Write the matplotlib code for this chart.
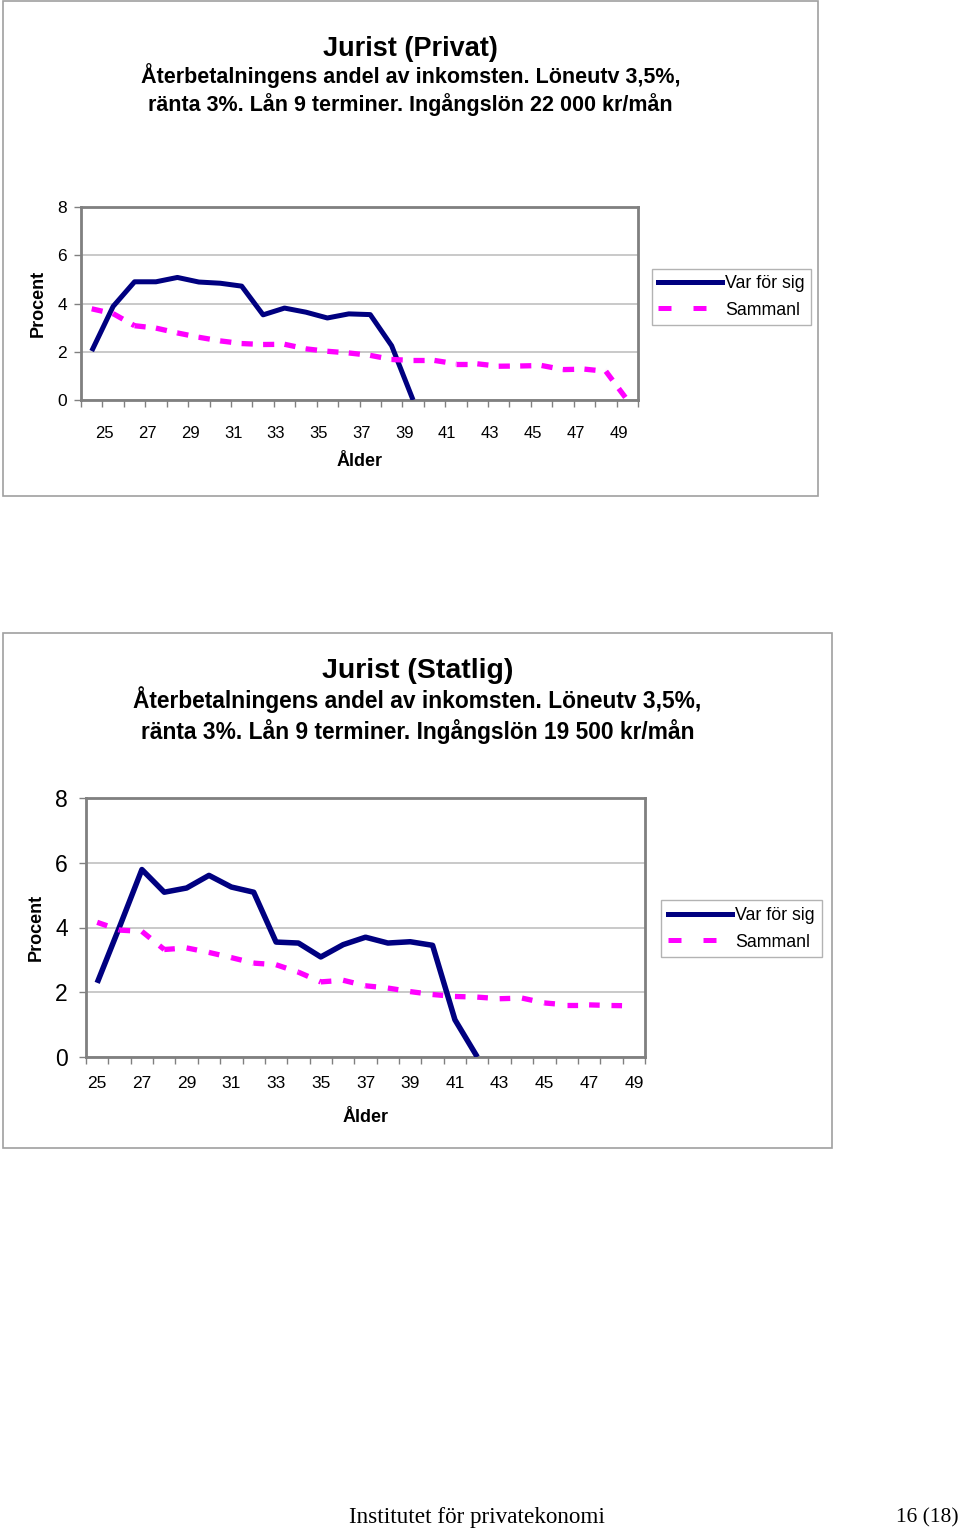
import numpy as np
import matplotlib
matplotlib.use("Agg")
import matplotlib.pyplot as plt
from matplotlib.lines import Line2D
from matplotlib.patches import Rectangle

plt.rcParams['font.family'] = ['Liberation Sans', 'DejaVu Sans']

# ---------------- data ----------------
ages_privat = list(range(25, 51))
var_privat = [2.03, 3.88, 4.90, 4.90, 5.08, 4.89, 4.84, 4.72, 3.53, 3.81,
              3.64, 3.40, 3.57, 3.54, 2.25, 0.0] + [np.nan] * 10
sam_privat = [3.78, 3.58, 3.08, 2.98, 2.78, 2.60, 2.45, 2.34, 2.30, 2.31,
              2.12, 2.02, 1.95, 1.85, 1.68, 1.64, 1.64, 1.50, 1.50, 1.40,
              1.41, 1.43, 1.26, 1.28, 1.19, 0.0]

ages_statlig = list(range(25, 50))
var_statlig = [2.29, 4.02, 5.79, 5.09, 5.22, 5.61, 5.25, 5.09, 3.55, 3.52,
               3.09, 3.47, 3.70, 3.52, 3.56, 3.45, 1.15, 0.0] + [np.nan] * 7
sam_statlig = [4.16, 3.92, 3.88, 3.32, 3.37, 3.23, 3.07, 2.90, 2.85, 2.62,
               2.32, 2.37, 2.20, 2.13, 2.02, 1.93, 1.87, 1.85, 1.80, 1.82,
               1.67, 1.61, 1.61, 1.59, 1.58]

series_labels = ["Var för sig", "Sammanl"]
tick_labels_privat = [str(a) for a in range(25, 50, 2)]
tick_labels_statlig = [str(a) for a in range(25, 50, 2)]
yticks = [0, 2, 4, 6, 8]

titles = ["Jurist (Privat)", "Jurist (Statlig)"]
subtitles = [
    "Återbetalningens andel av inkomsten. Löneutv 3,5%,\nränta 3%. Lån 9 terminer. Ingångslön 22 000 kr/mån",
    "Återbetalningens andel av inkomsten. Löneutv 3,5%,\nränta 3%. Lån 9 terminer. Ingångslön 19 500 kr/mån",
]

# ---------------- style ----------------
W, H = 960, 1528
DPI = 100
NAVY = "#000080"
MAG = "#FF00FF"
GRID = "#c0c0c0"
SPINE = "#808080"
FRAME = "#a0a0a0"
PX = 72.0 / DPI  # points per pixel

fig = plt.figure(figsize=(W / DPI, H / DPI), dpi=DPI)


def fx(x):
    return x / W


def fy(y):
    return 1 - y / H


def frame(x0, y0, x1, y1):
    fig.patches.append(Rectangle((fx(x0), fy(y1)), fx(x1) - fx(x0), fy(y0) - fy(y1),
                                 transform=fig.transFigure, fill=False,
                                 edgecolor=FRAME, linewidth=1.2))


def make_chart(box, plot, ages, var, sam, ticklabels, label_offset, title, subtitle,
               title_y, sub_y, tsize, ssize, sub_ls, ytick_size, xtick_size, xpad, leg_xy,
               leg_pad, procent_x, alder_y, ylab_pad, lw_nav, lw_mag, dash):
    frame(*box)
    l, t, r, b = plot
    ax = fig.add_axes([fx(l), fy(b), fx(r) - fx(l), fy(t) - fy(b)])
    x = np.array(ages, dtype=float)
    v = np.array(var, dtype=float)
    s = np.array(sam, dtype=float)
    ax.plot(x, v, color=NAVY, lw=lw_nav * PX, solid_joinstyle='round',
            solid_capstyle='butt', zorder=3)
    for k in range(len(x) - 1):
        if np.isnan(s[k]) or np.isnan(s[k + 1]):
            continue
        ax.plot(x[k:k + 2], s[k:k + 2], color=MAG, lw=lw_mag * PX,
                dashes=dash, dash_capstyle='butt', zorder=4)
    ax.set_xlim(x[0] - 0.5, x[-1] + 0.5)
    ax.set_ylim(0, 8)
    ax.set_yticks(yticks)
    ax.set_yticklabels([str(v_) for v_ in yticks], fontsize=ytick_size)
    ax.yaxis.grid(True, color=GRID, lw=1.2)
    ax.set_axisbelow(True)
    # category boundary tick marks
    ax.set_xticks(np.arange(x[0] - 0.5, x[-1] + 0.51, 1.0), minor=True)
    lab_pos = np.arange(25, 50, 2) + label_offset
    ax.set_xticks(lab_pos)
    ax.set_xticklabels(ticklabels, fontsize=xtick_size)
    ax.tick_params(axis='x', which='major', length=0, pad=xpad)
    ax.tick_params(axis='x', which='minor', length=5, width=1, color=SPINE, direction='out')
    ax.tick_params(axis='y', length=5, width=1, color=SPINE, direction='out', pad=ylab_pad)
    for sp in ax.spines.values():
        sp.set_color(SPINE)
        sp.set_linewidth(2.0 * PX * 1.4)
    # axis titles
    fig.text(fx(procent_x), fy((t + b) / 2), "Procent", rotation=90, fontsize=13,
             fontweight='bold', ha='center', va='center')
    fig.text(fx((l + r) / 2), fy(alder_y), "Ålder", fontsize=13, fontweight='bold',
             ha='center', va='center')
    # titles
    cx = (box[0] + box[2]) / 2
    fig.text(fx(cx), fy(title_y), title, fontsize=tsize, fontweight='bold',
             ha='center', va='center')
    fig.text(fx(cx), fy(sub_y), subtitle, fontsize=ssize, fontweight='bold',
             ha='center', va='center', linespacing=sub_ls, multialignment='center')
    # legend
    handles = [Line2D([], [], color=NAVY, lw=5 * PX),
               Line2D([], [], color=MAG, lw=5 * PX, dashes=(2.6, 4.4), dash_capstyle='butt')]
    leg = ax.legend(handles, series_labels, loc='upper left',
                    bbox_to_anchor=(fx(leg_xy[0]), fy(leg_xy[1])),
                    bbox_transform=fig.transFigure, fontsize=12.8, frameon=True,
                    fancybox=False, shadow=False, borderpad=leg_pad, labelspacing=0.55,
                    handlelength=3.6, handletextpad=0.2, borderaxespad=0)
    leg.get_frame().set_edgecolor(FRAME)
    leg.get_frame().set_linewidth(1.0)
    return ax


make_chart(box=(3, 1, 818, 496), plot=(81, 207, 638, 400), ages=ages_privat,
           var=var_privat, sam=sam_privat, ticklabels=tick_labels_privat,
           label_offset=0.6, title=titles[0], subtitle=subtitles[0],
           title_y=49, sub_y=89.5, tsize=19.5, ssize=15.5, sub_ls=1.32, ytick_size=12.5,
           xtick_size=12, xpad=19, leg_xy=(652, 269), leg_pad=0.33, procent_x=38,
           alder_y=461, ylab_pad=5, lw_nav=5, lw_mag=5.3, dash=(2.1, 1.95))

make_chart(box=(3, 633, 832, 1148), plot=(86, 798, 645, 1057), ages=ages_statlig,
           var=var_statlig, sam=sam_statlig, ticklabels=tick_labels_statlig,
           label_offset=0.0, title=titles[1], subtitle=subtitles[1],
           title_y=671, sub_y=715, tsize=20.5, ssize=16.4, sub_ls=1.28, ytick_size=16.5,
           xtick_size=12.5, xpad=14, leg_xy=(661, 900), leg_pad=0.38, procent_x=36,
           alder_y=1117, ylab_pad=8, lw_nav=5.5, lw_mag=5.3, dash=(2.0, 2.25))

# footer
fig.text(fx(477), fy(1518), "Institutet för privatekonomi", fontsize=16.7,
         family=['Liberation Serif', 'DejaVu Serif'], ha='center', va='center')
fig.text(fx(959), fy(1518), "16 (18)", fontsize=15.5,
         family=['Liberation Serif', 'DejaVu Serif'], ha='right', va='center')

fig.savefig("out.png", dpi=DPI)
